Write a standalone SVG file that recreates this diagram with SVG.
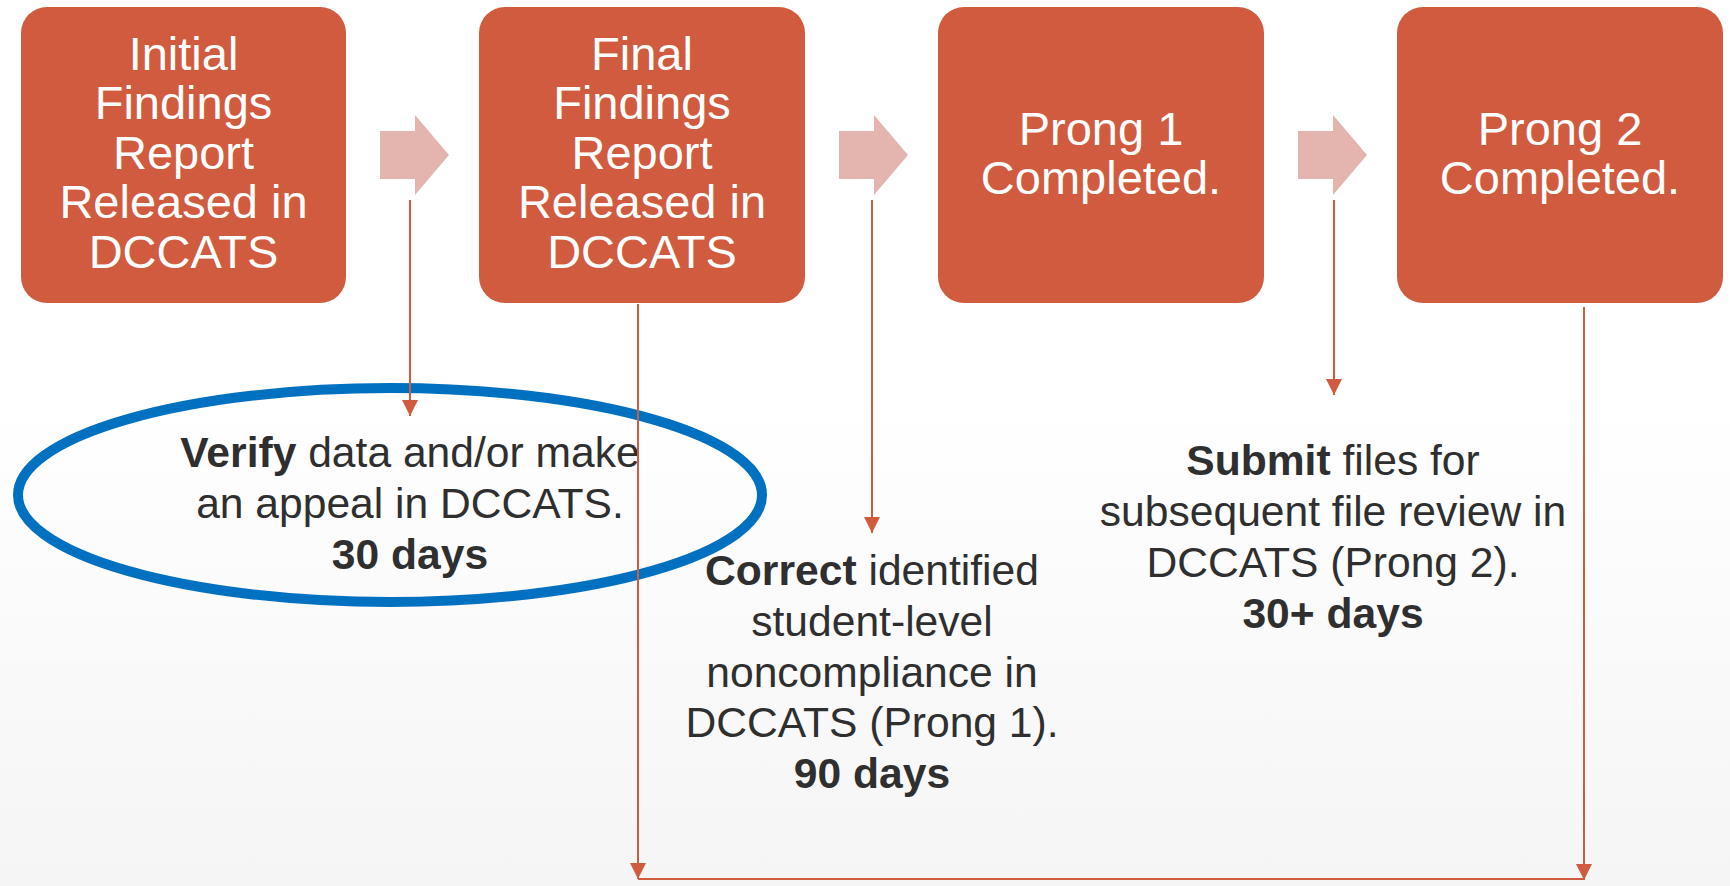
<svg xmlns="http://www.w3.org/2000/svg" width="1730" height="886" viewBox="0 0 1730 886">
  <defs>
    <linearGradient id="bg" x1="0" y1="0" x2="0" y2="1">
      <stop offset="0" stop-color="#ffffff"/>
      <stop offset="0.45" stop-color="#ffffff"/>
      <stop offset="1" stop-color="#f5f5f5"/>
    </linearGradient>
    <marker id="ah" markerUnits="userSpaceOnUse" markerWidth="16" markerHeight="16" refX="16" refY="8" orient="auto">
      <path d="M0,0 L16,8 L0,16 z" fill="#D15B3F"/>
    </marker>
    <style>
      .box { fill: #D15B3F; }
      .blk { fill: #E4B5AE; }
      .btxt { font-family: "Liberation Sans", Arial, sans-serif; font-size: 47px; fill: #ffffff; text-anchor: middle; }
      .ttxt { font-family: "Liberation Sans", Arial, sans-serif; font-size: 42.6px; fill: #2f2f2f; text-anchor: middle; }
      .b { font-weight: bold; }
      .conn { stroke: #D15B3F; stroke-width: 2; fill: none; }
    </style>
  </defs>
  <rect x="0" y="0" width="1730" height="886" fill="url(#bg)"/>

  <g id="node-initial">
    <rect class="box" x="21" y="7" width="325" height="296" rx="26"/>
    <text class="btxt" x="183.5"><tspan x="183.5" y="70">Initial</tspan><tspan x="183.5" y="119">Findings</tspan><tspan x="183.5" y="169">Report</tspan><tspan x="183.5" y="218">Released in</tspan><tspan x="183.5" y="268">DCCATS</tspan></text>
  </g>
  <g id="node-final">
    <rect class="box" x="479" y="7" width="326" height="296" rx="26"/>
    <text class="btxt" x="642"><tspan x="642" y="70">Final</tspan><tspan x="642" y="119">Findings</tspan><tspan x="642" y="169">Report</tspan><tspan x="642" y="218">Released in</tspan><tspan x="642" y="268">DCCATS</tspan></text>
  </g>
  <g id="node-prong1">
    <rect class="box" x="938" y="7" width="326" height="296" rx="26"/>
    <text class="btxt" x="1101"><tspan x="1101" y="145">Prong 1</tspan><tspan x="1101" y="194">Completed.</tspan></text>
  </g>
  <g id="node-prong2">
    <rect class="box" x="1397" y="7" width="326" height="296" rx="26"/>
    <text class="btxt" x="1560"><tspan x="1560" y="145">Prong 2</tspan><tspan x="1560" y="194">Completed.</tspan></text>
  </g>

  <g id="block-arrows">
    <polygon class="blk" points="380,131 415,131 415,115 449,155 415,195 415,179 380,179"/>
    <polygon class="blk" points="839,131 874,131 874,115 908,155 874,195 874,179 839,179"/>
    <polygon class="blk" points="1298,131 1333,131 1333,115 1367,155 1333,195 1333,179 1298,179"/>
  </g>

  <g id="node-verify">
    <ellipse cx="390" cy="495" rx="372" ry="107" fill="none" stroke="#0070C0" stroke-width="10"/>
    <text class="ttxt"><tspan x="410" y="467"><tspan class="b">Verify</tspan> data and/or make</tspan><tspan x="410" y="518">an appeal in DCCATS.</tspan><tspan x="410" y="569" class="b">30 days</tspan></text>
  </g>
  <g id="node-correct">
    <text class="ttxt"><tspan x="872" y="585"><tspan class="b">Correct</tspan> identified</tspan><tspan x="872" y="636">student-level</tspan><tspan x="872" y="687">noncompliance in</tspan><tspan x="872" y="737">DCCATS (Prong 1).</tspan><tspan x="872" y="788" class="b">90 days</tspan></text>
  </g>
  <g id="node-submit">
    <text class="ttxt"><tspan x="1333" y="475"><tspan class="b">Submit</tspan> files for</tspan><tspan x="1333" y="526">subsequent file review in</tspan><tspan x="1333" y="577">DCCATS (Prong 2).</tspan><tspan x="1333" y="628" class="b">30+ days</tspan></text>
  </g>

  <g id="connectors">
    <line class="conn" x1="410" y1="200" x2="410" y2="416" marker-end="url(#ah)"/>
    <line class="conn" x1="872" y1="200" x2="872" y2="533" marker-end="url(#ah)"/>
    <line class="conn" x1="1334" y1="200" x2="1334" y2="395" marker-end="url(#ah)"/>
    <line class="conn" x1="638" y1="304" x2="638" y2="879" marker-end="url(#ah)"/>
    <line class="conn" x1="1584" y1="307" x2="1584" y2="880" marker-end="url(#ah)"/>
    <line class="conn" x1="638" y1="879" x2="1584" y2="879"/>
  </g>
</svg>
